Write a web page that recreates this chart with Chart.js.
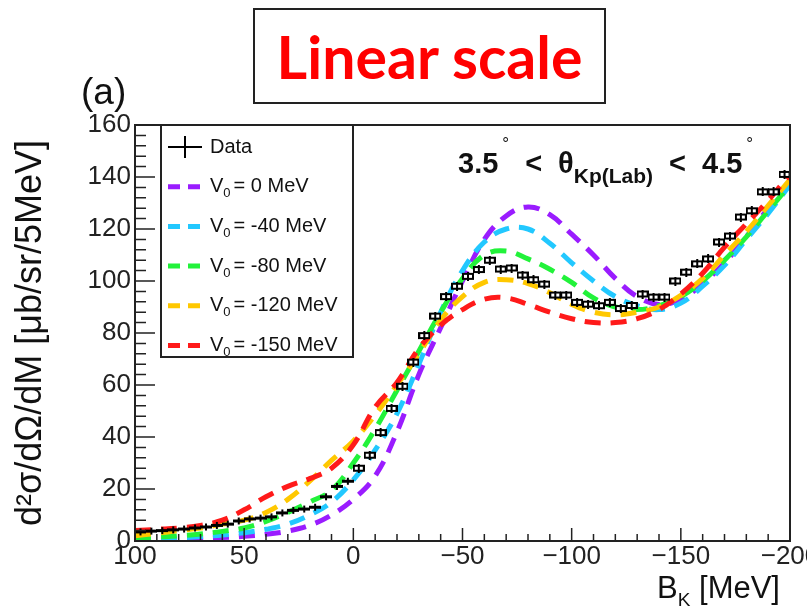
<!DOCTYPE html>
<html>
<head>
<meta charset="utf-8">
<script src="https://cdn.jsdelivr.net/npm/chart.js@4.4.1/dist/chart.umd.min.js"></script>
<style>
  body { margin: 0; background: #fff; }
  #wrap { position: relative; width: 807px; height: 615px; font-family: 'Liberation Sans', Arial, sans-serif; color: #111; }
  #chart { position: absolute; left: 0; top: 0; }
  .title-box {
    position: absolute; left: 253px; top: 8px; width: 353px; height: 96px;
    border: 2px solid #222; box-sizing: border-box;
    display: flex; align-items: center; justify-content: center;
    color: #ff0000; font-family: 'Lato', sans-serif; font-weight: bold; font-size: 59px;
  }
  .panel { position: absolute; left: 81px; top: 71px; font-size: 37px; }
  .range { position: absolute; left: 458px; top: 134px; font-size: 29px; font-weight: bold; white-space: nowrap; }
  .range sup { font-size: 17px; font-weight: normal; vertical-align: 24px; margin-left: 4px; }
  .range sub { font-size: 21px; vertical-align: -10px; }
  .range .gap { display: inline-block; width: 16px; }
  .xtitle { position: absolute; right: 27px; top: 570px; font-size: 31px; white-space: nowrap; }
  .xtitle sub { font-size: 19px; vertical-align: -8px; }
</style>
</head>
<body>
<div id="wrap">
  <canvas id="chart" width="807" height="615"></canvas>
  <div class="title-box">Linear scale</div>
  <div class="panel">(a)</div>
  <div class="range">3.5<sup>°</sup><span class="gap"></span>&lt;<span class="gap"></span>θ<sub>Kp(Lab)</sub><span class="gap"></span>&lt;<span class="gap"></span>4.5<sup>°</sup></div>
  <div class="xtitle">B<sub>K</sub> [MeV]</div>
</div>
<script>
// measured spectrum, 5 MeV bins (bin centres)
const binCenters = [
  97.5, 92.5, 87.5, 82.5, 77.5, 72.5, 67.5, 62.5, 57.5, 52.5,
  47.5, 42.5, 37.5, 32.5, 27.5, 22.5, 17.5, 12.5, 7.5, 2.5,
  -2.5, -7.5, -12.5, -17.5, -22.5, -27.5, -32.5, -37.5, -42.5, -47.5,
  -52.5, -57.5, -62.5, -67.5, -72.5, -77.5, -82.5, -87.5, -92.5, -97.5,
  -102.5, -107.5, -112.5, -117.5, -122.5, -127.5, -132.5, -137.5, -142.5, -147.5,
  -152.5, -157.5, -162.5, -167.5, -172.5, -177.5, -182.5, -187.5, -192.5, -197.5
];
const dataValues = [
  3.5, 3.8, 4.0, 4.3, 4.6, 5.0, 5.4, 6.0, 6.5, 7.7,
  8.5, 8.8, 9.3, 10.8, 11.8, 12.3, 13.0, 17.0, 21.0, 23.0,
  28.0, 33.0, 41.7, 51.0, 59.5, 68.8, 79.0, 86.5, 94.0, 98.0,
  101.8, 104.4, 108.0, 104.6, 105.0, 102.3, 100.5, 98.8, 94.6, 94.6,
  91.8, 91.1, 90.5, 91.8, 89.4, 90.6, 95.0, 93.8, 93.8, 100.0,
  103.4, 106.6, 108.5, 115.0, 117.3, 124.6, 127.0, 134.3, 134.3, 141.0
];

// model curves, sampled every 10 MeV
const curveX = [100, 90, 80, 70, 60, 50, 40, 30, 20, 10, 0, -10, -20, -30, -40, -50,
  -60, -70, -80, -90, -100, -110, -120, -130, -140, -150, -160, -170, -180, -190, -200];
const v0Values = [0, -40, -80, -120, -150];
const curve0 = [0.3, 0.5, 0.7, 1.0, 1.3, 1.8, 2.6, 3.8, 6.0, 10.0, 16.0, 25.0, 42.0, 64.0, 82.0, 100.0,
  116.0, 125.0, 128.5, 125.5, 118.0, 110.0, 101.0, 94.0, 91.0, 93.0, 99.0, 107.0, 117.0, 128.0, 138.0];
const curve40 = [0.5, 0.8, 1.2, 1.7, 2.3, 3.2, 4.5, 6.5, 10.0, 15.0, 23.5, 35.0, 49.0, 68.0, 88.0, 104.0,
  115.0, 120.0, 120.0, 114.5, 107.0, 100.0, 94.0, 90.5, 89.0, 91.5, 98.0, 106.0, 116.0, 126.0, 137.0];
const curve80 = [1.0, 1.5, 2.0, 2.7, 3.7, 5.0, 7.5, 11.0, 15.0, 19.5, 30.0, 43.0, 58.0, 73.0, 88.0, 101.0,
  110.0, 111.5, 108.5, 104.5, 99.5, 93.5, 90.0, 89.0, 90.5, 94.0, 100.0, 108.0, 117.0, 127.0, 137.0];
const curve120 = [2.0, 3.0, 4.0, 5.0, 6.5, 8.0, 11.0, 16.0, 23.0, 31.0, 38.5, 48.5, 60.0, 72.0, 85.0, 94.0,
  99.5, 100.5, 99.0, 95.5, 91.0, 88.0, 87.0, 88.0, 90.0, 94.5, 101.0, 110.0, 119.0, 129.0, 139.0];
const curve150 = [4.0, 4.5, 5.0, 6.0, 8.0, 12.0, 17.0, 21.0, 24.0, 28.0, 37.0, 51.5, 61.0, 74.0, 83.0, 89.0,
  93.0, 93.5, 91.0, 88.0, 85.5, 84.0, 84.0, 85.5, 89.0, 95.0, 103.0, 113.0, 122.0, 131.0, 141.0];

const curveColors = ['#9a1cff', '#22c8ff', '#22f23a', '#ffc800', '#ff1a1a'];
const curves = [curve0, curve40, curve80, curve120, curve150];

// data marker: error box with bar, and a crossbar for the small bins
function makeBox() {
  const c = document.createElement('canvas');
  c.width = 12; c.height = 9;
  const g = c.getContext('2d');
  g.fillStyle = '#000';
  g.fillRect(0, 1, 12, 7);
  g.fillStyle = '#fff';
  g.fillRect(2, 3, 3, 3);
  g.fillRect(7, 3, 3, 3);
  g.fillStyle = '#000';
  g.fillRect(5, 0, 2, 9);
  return c;
}
function makeBar() {
  const c = document.createElement('canvas');
  c.width = 12; c.height = 9;
  const g = c.getContext('2d');
  g.fillStyle = '#000';
  g.fillRect(0, 3, 12, 3);
  g.fillRect(5, 1, 2, 7);
  return c;
}
const boxSym = makeBox();
const barSym = makeBar();

const datasets = [{
  label: 'Data',
  data: binCenters.map((x, i) => ({ x: x, y: dataValues[i] })),
  showLine: false,
  pointStyle: ctx => (ctx.raw && ctx.raw.y < 24 ? barSym : boxSym),
  pointRadius: 6,
  order: 0
}];
curves.forEach((vals, i) => {
  datasets.push({
    label: 'V0 = ' + v0Values[i] + ' MeV',
    data: curveX.map((x, j) => ({ x: x, y: vals[j] })),
    borderColor: curveColors[i],
    borderWidth: 5,
    borderDash: [16, 10],
    tension: 0.4,
    pointRadius: 0,
    fill: false,
    order: 10 - i
  });
});

const tickColor = '#222';

// frame, inward ticks and ROOT-style legend
const rootStyle = {
  id: 'rootStyle',
  afterDatasetsDraw(chart) {
    const { ctx, chartArea: a, scales } = chart;
    const x = scales.x, y = scales.y;
    ctx.save();
    ctx.strokeStyle = '#222';
    ctx.lineWidth = 2;
    ctx.strokeRect(a.left, a.top, a.right - a.left, a.bottom - a.top);

    ctx.lineWidth = 1.5;
    ctx.beginPath();
    for (let v = x.min; v <= x.max + 0.01; v += 10) {
      const px = x.getPixelForValue(v);
      const len = (Math.round(v) % 50 === 0) ? 13 : 7;
      ctx.moveTo(px, a.bottom);
      ctx.lineTo(px, a.bottom - len);
    }
    for (let v = y.min; v <= y.max + 0.01; v += 4) {
      const py = y.getPixelForValue(v);
      const len = (Math.round(v) % 20 === 0) ? 20 : 11;
      ctx.moveTo(a.left, py);
      ctx.lineTo(a.left + len, py);
    }
    ctx.stroke();

    // legend
    const lx = a.left + 26, ly = a.top, lw = 192, lh = 232;
    ctx.fillStyle = '#fff';
    ctx.fillRect(lx, ly, lw, lh);
    ctx.lineWidth = 2;
    ctx.strokeStyle = '#222';
    ctx.strokeRect(lx, ly, lw, lh);

    const rowY = i => ly + 22 + i * 39.7;
    const textX = lx + 49;
    ctx.textBaseline = 'middle';
    ctx.fillStyle = '#111';

    // data entry
    ctx.strokeStyle = '#000';
    ctx.lineWidth = 2;
    ctx.beginPath();
    ctx.moveTo(lx + 7, rowY(0));
    ctx.lineTo(lx + 41, rowY(0));
    ctx.moveTo(lx + 24, rowY(0) - 11);
    ctx.lineTo(lx + 24, rowY(0) + 11);
    ctx.stroke();
    ctx.font = '20px "Liberation Sans", Arial, sans-serif';
    ctx.fillText(chart.data.datasets[0].label, textX, rowY(0));

    for (let i = 0; i < v0Values.length; i++) {
      const yy = rowY(i + 1);
      ctx.strokeStyle = curveColors[i];
      ctx.lineWidth = 5;
      ctx.beginPath();
      ctx.moveTo(lx + 7, yy); ctx.lineTo(lx + 19, yy);
      ctx.moveTo(lx + 27, yy); ctx.lineTo(lx + 39, yy);
      ctx.stroke();
      let tx = textX;
      ctx.font = '20px "Liberation Sans", Arial, sans-serif';
      ctx.fillText('V', tx, yy);
      tx += ctx.measureText('V').width;
      ctx.font = '13px "Liberation Sans", Arial, sans-serif';
      ctx.fillText('0', tx, yy + 7);
      tx += ctx.measureText('0').width + 3;
      ctx.font = '20px "Liberation Sans", Arial, sans-serif';
      ctx.fillText('= ' + v0Values[i] + ' MeV', tx, yy);
    }
    ctx.restore();
  }
};

new Chart(document.getElementById('chart'), {
  type: 'line',
  data: { datasets: datasets },
  options: {
    responsive: false,
    animation: false,
    layout: { padding: { left: 0, right: 17, top: 125, bottom: 0 } },
    plugins: { legend: { display: false }, tooltip: { enabled: false } },
    scales: {
      x: {
        type: 'linear',
        reverse: true,
        min: -200,
        max: 100,
        grid: { display: false, drawTicks: false },
        border: { display: false },
        ticks: {
          stepSize: 50,
          padding: 0,
          color: tickColor,
          font: { size: 26, family: '"Liberation Sans", Arial, sans-serif' },
          callback: v => (v < 0 ? '\u2212' + (-v) : String(v))
        },
        afterFit: s => { s.height = 74; s.paddingLeft = 0; s.paddingRight = 0; }
      },
      y: {
        min: 0,
        max: 160,
        grid: { display: false, drawTicks: false },
        border: { display: false },
        ticks: {
          stepSize: 20,
          padding: 4,
          color: tickColor,
          font: { size: 26, family: '"Liberation Sans", Arial, sans-serif' }
        },
        title: {
          display: true,
          text: 'd²σ/dΩ/dM [μb/sr/5MeV]',
          color: '#111',
          padding: { top: 9, bottom: 0 },
          font: { size: 36, family: '"Liberation Sans", Arial, sans-serif' }
        },
        afterFit: s => { s.width = 135; s.paddingTop = 0; s.paddingBottom = 0; }
      }
    }
  },
  plugins: [rootStyle]
});
</script>
</body>
</html>
